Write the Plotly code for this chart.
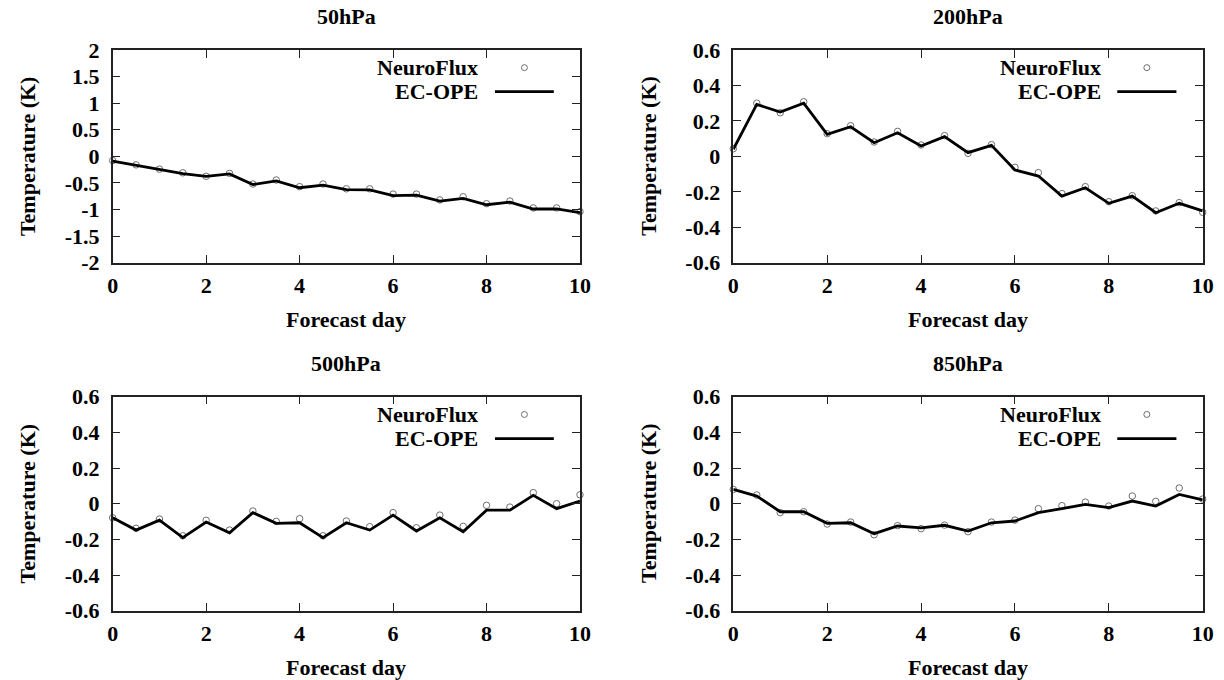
import plotly.graph_objects as go

days = [0, 0.5, 1, 1.5, 2, 2.5, 3, 3.5, 4, 4.5, 5, 5.5, 6, 6.5, 7, 7.5, 8, 8.5, 9, 9.5, 10]

titles = ["50hPa", "200hPa", "500hPa", "850hPa"]

p50_ec = [-0.09, -0.17, -0.25, -0.325, -0.375, -0.33, -0.53, -0.46, -0.59, -0.54, -0.625,
          -0.63, -0.74, -0.73, -0.84, -0.79, -0.91, -0.86, -0.99, -0.99, -1.06]
p50_nf = [-0.08, -0.16, -0.24, -0.31, -0.375, -0.32, -0.52, -0.445, -0.57, -0.52, -0.61,
          -0.61, -0.71, -0.71, -0.82, -0.76, -0.89, -0.84, -0.97, -0.97, -1.04]

p200_ec = [0.04, 0.293, 0.25, 0.30, 0.124, 0.167, 0.077, 0.133, 0.058, 0.111, 0.021,
           0.062, -0.077, -0.111, -0.224, -0.177, -0.265, -0.224, -0.318, -0.265, -0.308]
p200_nf = [0.043, 0.30, 0.246, 0.308, 0.128, 0.173, 0.081, 0.141, 0.064, 0.117, 0.017,
           0.066, -0.062, -0.092, -0.21, -0.171, -0.256, -0.222, -0.308, -0.261, -0.316]

p500_ec = [-0.079, -0.148, -0.092, -0.19, -0.103, -0.163, -0.05, -0.11, -0.107, -0.19, -0.107,
           -0.148, -0.064, -0.153, -0.079, -0.157, -0.036, -0.036, 0.047, -0.028, 0.015]
p500_nf = [-0.079, -0.138, -0.086, -0.18, -0.093, -0.148, -0.041, -0.099, -0.084, -0.18, -0.097,
           -0.129, -0.05, -0.135, -0.064, -0.127, -0.009, -0.019, 0.062, 0.0, 0.05]

p850_ec = [0.08, 0.043, -0.045, -0.045, -0.11, -0.107, -0.168, -0.125, -0.135, -0.121, -0.153,
           -0.107, -0.097, -0.05, -0.028, -0.004, -0.022, 0.015, -0.013, 0.052, 0.021]
p850_nf = [0.08, 0.049, -0.05, -0.045, -0.114, -0.103, -0.174, -0.123, -0.14, -0.12, -0.157,
           -0.103, -0.092, -0.028, -0.011, 0.009, -0.013, 0.043, 0.013, 0.088, 0.026]

x_ticks = [0, 2, 4, 6, 8, 10]
y_ticks_50 = [-2, -1.5, -1, -0.5, 0, 0.5, 1, 1.5, 2]
y_labels_50 = ["-2", "-1.5", "-1", "-0.5", "0", "0.5", "1", "1.5", "2"]
y_ticks_06 = [-0.6, -0.4, -0.2, 0, 0.2, 0.4, 0.6]
y_labels_06 = ["-0.6", "-0.4", "-0.2", "0", "0.2", "0.4", "0.6"]

nf_series = [p50_nf, p200_nf, p500_nf, p850_nf]
ec_series = [p50_ec, p200_ec, p500_ec, p850_ec]
y_ranges = [[-2, 2], [-0.6, 0.6], [-0.6, 0.6], [-0.6, 0.6]]
y_tickvals = [y_ticks_50, y_ticks_06, y_ticks_06, y_ticks_06]
y_ticktext = [y_labels_50, y_labels_06, y_labels_06, y_labels_06]

W, H = 1224, 680


def fx(px):
    return px / W


def fy(py):
    return 1 - py / H


x_domains = [[fx(112.7), fx(580)], [fx(733.3), fx(1202.7)]]
y_domains = [[fy(262.7), fy(50)], [fy(610.7), fy(396.7)]]

FONT = "Liberation Serif"
FS = 22
AX_COLOR = "#222222"

fig = go.Figure()
annotations = []
shapes = []

for i in range(4):
    row, col = divmod(i, 2)
    n = i + 1
    xa = "x" if n == 1 else f"x{n}"
    ya = "y" if n == 1 else f"y{n}"
    fig.add_trace(go.Scatter(
        x=days, y=nf_series[i], mode="markers", xaxis=xa, yaxis=ya,
        marker=dict(symbol="circle-open", size=6.5, color="#6e6e6e", line=dict(width=1)),
        cliponaxis=False, showlegend=False, name="NeuroFlux"))
    fig.add_trace(go.Scatter(
        x=days, y=ec_series[i], mode="lines", xaxis=xa, yaxis=ya,
        line=dict(color="black", width=2.8),
        cliponaxis=False, showlegend=False, name="EC-OPE"))

    axis_common = dict(
        showgrid=False, zeroline=False, showline=True, linecolor=AX_COLOR, linewidth=1.5,
        mirror="ticks", ticks="inside", ticklen=8, tickwidth=1.2, tickcolor=AX_COLOR,
        automargin=False,
        tickfont=dict(family=FONT, size=FS, color="black", weight="bold"),
    )
    xkey = "xaxis" if n == 1 else f"xaxis{n}"
    ykey = "yaxis" if n == 1 else f"yaxis{n}"
    fig.update_layout(**{
        xkey: dict(axis_common, domain=x_domains[col], range=[0, 10], tickvals=x_ticks,
                   anchor=ya, ticklabelstandoff=2),
        ykey: dict(axis_common, domain=y_domains[row], range=y_ranges[i],
                   tickvals=y_tickvals[i], ticktext=y_ticktext[i], anchor=xa,
                   ticklabelstandoff=7),
    })

    xd = f"{xa} domain"
    yd = f"{ya} domain"
    tfont = dict(family=FONT, size=FS, color="black", weight="bold")
    # subplot title
    annotations.append(dict(text=titles[i], xref=xd, yref=yd, x=0.5, y=1, yshift=33,
                            showarrow=False, xanchor="center", yanchor="middle", font=tfont))
    # x-axis title
    annotations.append(dict(text="Forecast day", xref=xd, yref=yd, x=0.5, y=0, yshift=-57,
                            showarrow=False, xanchor="center", yanchor="middle", font=tfont))
    # y-axis title
    annotations.append(dict(text="Temperature (K)", xref=xd, yref=yd, x=0, y=0.5, xshift=-85,
                            textangle=-90, showarrow=False, xanchor="center", yanchor="middle",
                            font=tfont))
    # legend texts
    annotations.append(dict(text="NeuroFlux", xref=xd, yref=yd, x=0.787, y=0.917,
                            showarrow=False, xanchor="right", yanchor="middle", font=tfont))
    annotations.append(dict(text="EC-OPE", xref=xd, yref=yd, x=0.787, y=0.804,
                            showarrow=False, xanchor="right", yanchor="middle", font=tfont))
    # legend samples
    shapes.append(dict(type="circle", xref=xd, yref=yd, xsizemode="pixel", ysizemode="pixel",
                       xanchor=0.881, yanchor=0.917, x0=-3, x1=3, y0=-3, y1=3,
                       line=dict(color="#6e6e6e", width=1)))
    shapes.append(dict(type="line", xref=xd, yref=yd, x0=0.818, x1=0.944, y0=0.804, y1=0.804,
                       line=dict(color="black", width=2.8)))

fig.update_layout(
    template="none",
    width=W, height=H, margin=dict(l=0, r=0, t=0, b=0, autoexpand=False),
    paper_bgcolor="white", plot_bgcolor="white",
    annotations=annotations, shapes=shapes, showlegend=False,
)

fig.write_html("out.html",
               config={"displayModeBar": False},
               post_script="document.body.style.margin='0';document.body.style.overflow='hidden';")
